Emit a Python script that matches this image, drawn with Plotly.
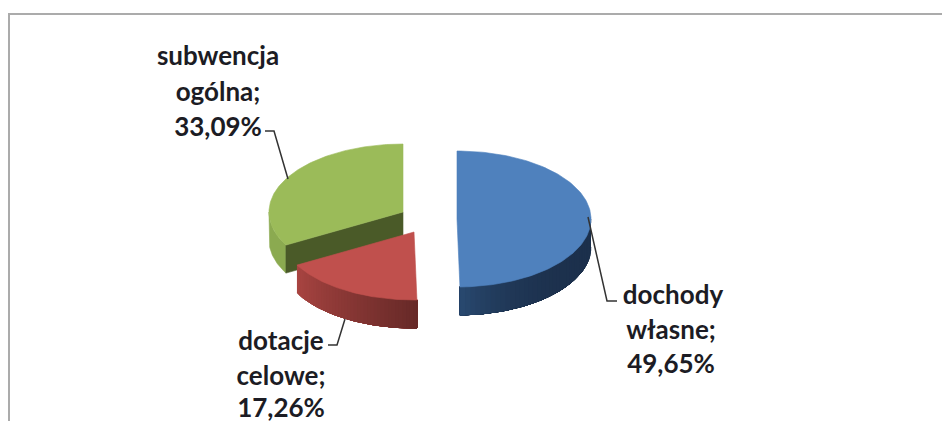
import numpy as np
import plotly.graph_objects as go

# Data
categories = ["dochody własne", "dotacje celowe", "subwencja ogólna"]
label_lines = [["dochody", "własne;"], ["dotacje", "celowe;"], ["subwencja", "ogólna;"]]
values = [49.65, 17.26, 33.09]

# Style / layout (pixel-based layout axes)
W, H = 942, 421
RX, RY, DEPTH = 134, 68, 28
apexes = [(457, 219), (414, 232), (403, 212)]
top_colors = ["#4F81BD", "#C0504D", "#9BBB59"]
side_from = [(28, 48, 76), (168, 68, 65), (139, 170, 80)]
side_to = [(40, 72, 110), (104, 42, 40), (139, 170, 80)]
side_power = [4, 1, 1]
wall_color = "#4A5A28"
text_color = "#1c1c24"
label_pos = [
    [(673, 297), (671, 332), (671, 366)],
    [(281, 343), (281, 378), (281, 410)],
    [(218, 58), (218, 94), (218, 129)],
]
leaders = [
    [(588, 217), (607, 301), (617, 301)],
    [(345, 319), (337, 345), (328, 345)],
    [(288, 179), (274, 131), (265, 131)],
]
frame = [(9, 421), (9, 14), (942, 14)]

fig = go.Figure()


def ell(cx, cy, deg):
    a = np.radians(deg)
    return cx + RX * np.sin(a), cy - RY * np.cos(a)


def poly(xs, ys, color):
    fig.add_trace(go.Scatter(x=list(xs), y=list(ys), mode="lines", fill="toself",
                             fillcolor=color, line=dict(color=color, width=0.6),
                             hoverinfo="skip", showlegend=False))


edges = np.concatenate([[0], np.cumsum(values)]) * 3.6
edges[-1] = 360


def draw_side(i, a0, a1, c0, c1, n=40):
    # Painter's approach: every band covers the rest of the arc, so no seams show
    cx, cy = apexes[i]
    steps = np.linspace(a0, a1, n + 1)
    for k in range(n):
        t = (k / max(n - 1, 1)) ** side_power[i]
        col = tuple(int(round(c0[j] + (c1[j] - c0[j]) * t)) for j in range(3))
        arc = np.linspace(steps[k], a1, 40)
        x, y = ell(cx, cy, arc)
        poly(np.r_[x, x[::-1]], np.r_[y, y[::-1] + DEPTH], "rgb(%d,%d,%d)" % col)


def draw_top(i):
    cx, cy = apexes[i]
    arc = np.linspace(edges[i], edges[i + 1], 120)
    x, y = ell(cx, cy, arc)
    poly(np.r_[cx, x, cx], np.r_[cy, y, cy], top_colors[i])


# Blue slice: visible rim runs from the right extreme to the cut near the bottom
draw_side(0, 90, edges[1], side_from[0], side_to[0])
draw_top(0)

# Green slice: outer rim plus the dark cut wall
draw_side(2, edges[2], 270, side_from[2], side_to[2], n=1)
gx, gy = ell(*apexes[2], edges[2])
ax, ay = apexes[2]
poly([ax, gx, gx, ax, ax], [ay, gy, gy + DEPTH, ay + DEPTH, ay], wall_color)
draw_top(2)

# Red slice
draw_side(1, edges[2], edges[1], side_from[1], side_to[1])
draw_top(1)

# Leader lines
for pts in leaders:
    fig.add_trace(go.Scatter(x=[p[0] for p in pts], y=[p[1] for p in pts], mode="lines",
                             line=dict(color="#333333", width=1.5),
                             hoverinfo="skip", showlegend=False))

# Frame
fig.add_trace(go.Scatter(x=[p[0] for p in frame], y=[p[1] for p in frame], mode="lines",
                         line=dict(color="#ABABAB", width=2),
                         hoverinfo="skip", showlegend=False))

# Labels
for i, lines in enumerate(label_lines):
    pct = f"{values[i]:.2f}".replace(".", ",") + "%"
    texts = lines + [pct]
    fig.add_trace(go.Scatter(
        x=[p[0] for p in label_pos[i]], y=[p[1] for p in label_pos[i]],
        mode="text", text=[f"<b>{t}</b>" for t in texts], textposition="middle center",
        textfont=dict(family="Lato", size=26, color=text_color),
        hoverinfo="skip", showlegend=False, cliponaxis=False))

fig.update_layout(
    width=W, height=H, margin=dict(l=0, r=0, t=0, b=0),
    paper_bgcolor="white", plot_bgcolor="white", showlegend=False,
    xaxis=dict(range=[0, W], visible=False, fixedrange=True),
    yaxis=dict(range=[H, 0], visible=False, fixedrange=True),
)
fig.write_html("out.html", config={"displayModeBar": False},
               post_script="document.body.style.margin='0';document.body.style.overflow='hidden';")
